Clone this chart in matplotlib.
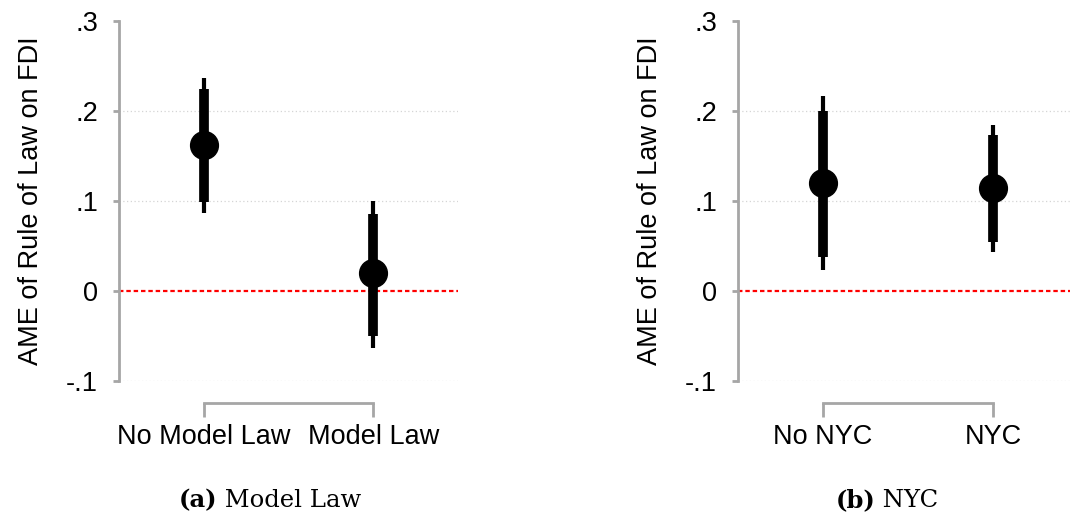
import matplotlib
matplotlib.use("Agg")
import matplotlib.pyplot as plt
from matplotlib.offsetbox import TextArea, HPacker, AnchoredOffsetbox

# Panel (a): Model Law
cats_a = ["No Model Law", "Model Law"]
est_a = [0.162, 0.020]
ci90_lo_a = [0.099, -0.050]
ci90_hi_a = [0.224, 0.086]
ci95_lo_a = [0.087, -0.063]
ci95_hi_a = [0.237, 0.100]

# Panel (b): NYC
cats_b = ["No NYC", "NYC"]
est_b = [0.120, 0.114]
ci90_lo_b = [0.038, 0.054]
ci90_hi_b = [0.200, 0.173]
ci95_lo_b = [0.023, 0.043]
ci95_hi_b = [0.217, 0.184]

yticks = [-0.1, 0.0, 0.1, 0.2, 0.3]
ytick_labels = ["-.1", "0", ".1", ".2", ".3"]
grid_vals = [-0.1, 0.1, 0.2]

captions = [("(a)", " Model Law"), ("(b)", " NYC")]

W, H = 1070, 524
fig = plt.figure(figsize=(W / 100, H / 100), dpi=100)

sans = ["Liberation Sans", "DejaVu Sans"]
serif = ["DejaVu Serif"]
spine_col = "#a6a6a6"
fs = 19.5

def px_axes(x0, x1, y0, y1):
    return fig.add_axes([x0 / W, 1 - y1 / H, (x1 - x0) / W, (y1 - y0) / H])

def draw(ax, cats, est, lo90, hi90, lo95, hi95):
    xs = list(range(1, len(cats) + 1))
    for s in ["top", "right"]:
        ax.spines[s].set_visible(False)
    ax.spines["left"].set_color(spine_col)
    ax.spines["left"].set_linewidth(2)
    ax.spines["bottom"].set_color(spine_col)
    ax.spines["bottom"].set_linewidth(2)
    ax.spines["bottom"].set_position(("outward", 16))
    for g in grid_vals:
        ax.axhline(g, color="#d5d5d5", lw=0.9, ls=(0, (1, 2)), zorder=0)
    ax.axhline(0, color="#ff0000", lw=1.6, ls=(0, (2, 1.3)), zorder=1)
    ax.vlines(xs, lo95, hi95, color="black", lw=3, zorder=2)
    ax.vlines(xs, lo90, hi90, color="black", lw=7, zorder=3)
    ax.plot(xs, est, "o", color="black", ms=20, zorder=4)
    ax.set_xlim(0.5, 2.5)
    ax.set_ylim(-0.1, 0.3)
    ax.set_yticks(yticks)
    ax.set_yticklabels(ytick_labels, fontfamily=sans, fontsize=fs)
    ax.set_xticks(xs)
    ax.set_xticklabels(cats, fontfamily=sans, fontsize=fs)
    ax.spines["left"].set_bounds(-0.1, 0.3)
    ax.spines["bottom"].set_bounds(1, 2)
    ax.tick_params(axis="y", length=4, width=2, color=spine_col, pad=11)
    ax.tick_params(axis="x", length=10, width=2, color=spine_col, pad=5)
    ax.set_ylabel("AME of Rule of Law on FDI", fontfamily=sans, fontsize=fs, labelpad=16)
    ax.set_facecolor("none")

ax1 = px_axes(119, 458, 21, 381)
draw(ax1, cats_a, est_a, ci90_lo_a, ci90_hi_a, ci95_lo_a, ci95_hi_a)
ax2 = px_axes(738, 1078, 21, 381)
draw(ax2, cats_b, est_b, ci90_lo_b, ci90_hi_b, ci95_lo_b, ci95_hi_b)

for (lab, txt), cx in zip(captions, [270, 887]):
    a = TextArea(lab, textprops=dict(fontfamily=serif, fontsize=17.5, fontweight="bold"))
    b = TextArea(txt, textprops=dict(fontfamily=serif, fontsize=17.5))
    box = HPacker(children=[a, b], align="baseline", pad=0, sep=0)
    ab = AnchoredOffsetbox(loc="center", child=box, frameon=False,
                           bbox_to_anchor=(cx / W, 1 - 500 / H),
                           bbox_transform=fig.transFigure, borderpad=0)
    fig.add_artist(ab)

fig.savefig("out.png", dpi=100)
